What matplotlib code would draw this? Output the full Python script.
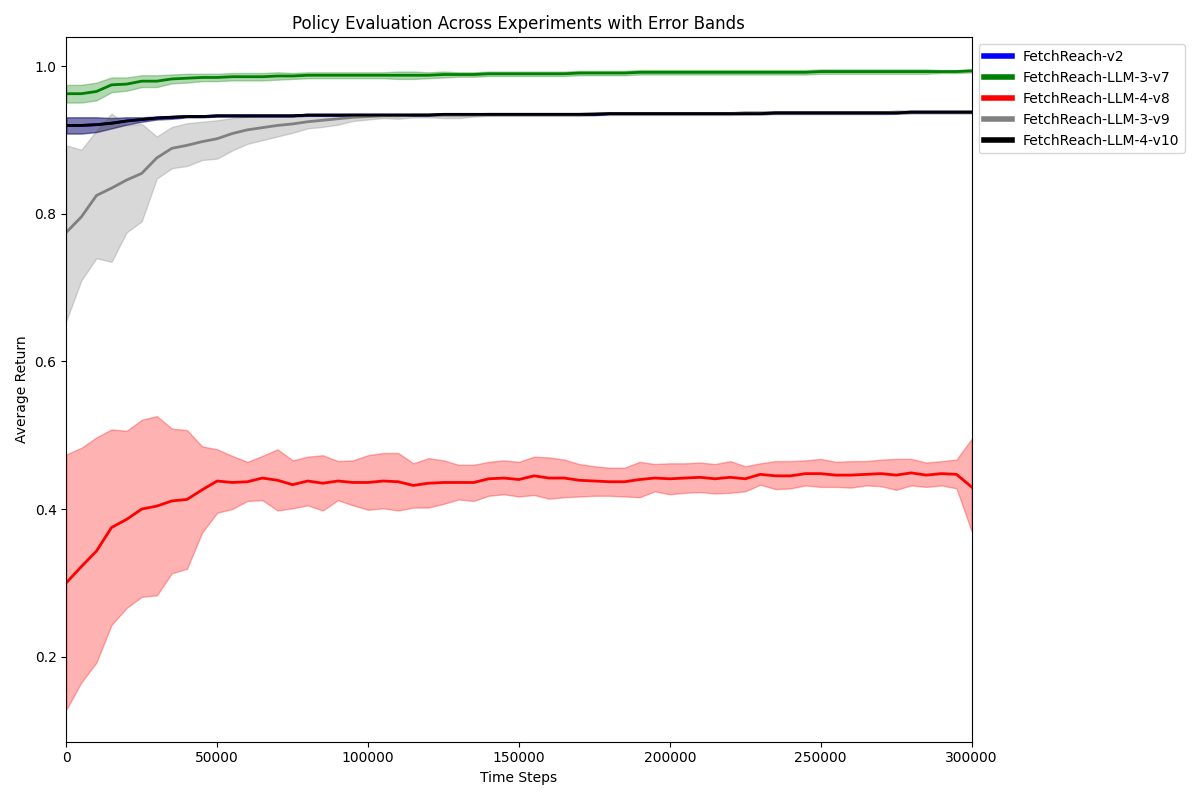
import numpy as np
import matplotlib.pyplot as plt
from matplotlib.lines import Line2D

steps = np.arange(0, 300001, 5000)

# FetchReach-LLM-4-v8 (red)
red_mean = [0.300, 0.322, 0.343, 0.375, 0.386, 0.400, 0.404, 0.411, 0.413, 0.426,
            0.438, 0.436, 0.437, 0.442, 0.439, 0.433, 0.438, 0.435, 0.438, 0.436,
            0.436, 0.438, 0.437, 0.432, 0.435, 0.436, 0.436, 0.436, 0.441, 0.442,
            0.440, 0.445, 0.442, 0.442, 0.439, 0.438, 0.437, 0.437, 0.440, 0.442,
            0.441, 0.442, 0.443, 0.441, 0.443, 0.441, 0.447, 0.445, 0.445, 0.448,
            0.448, 0.446, 0.446, 0.447, 0.448, 0.446, 0.449, 0.446, 0.448, 0.447, 0.430]
red_upper = [0.474, 0.483, 0.497, 0.508, 0.506, 0.521, 0.526, 0.509, 0.507, 0.485,
             0.481, 0.472, 0.464, 0.472, 0.481, 0.466, 0.471, 0.473, 0.465, 0.466,
             0.473, 0.476, 0.476, 0.462, 0.469, 0.466, 0.460, 0.460, 0.464, 0.466,
             0.464, 0.471, 0.470, 0.467, 0.461, 0.458, 0.456, 0.456, 0.464, 0.461,
             0.462, 0.462, 0.463, 0.461, 0.465, 0.458, 0.462, 0.465, 0.465, 0.466,
             0.468, 0.464, 0.465, 0.465, 0.467, 0.468, 0.468, 0.463, 0.465, 0.467, 0.495]
red_lower = [0.128, 0.165, 0.192, 0.243, 0.266, 0.281, 0.283, 0.313, 0.319, 0.368,
             0.395, 0.400, 0.411, 0.412, 0.398, 0.401, 0.405, 0.398, 0.412, 0.405,
             0.399, 0.401, 0.398, 0.402, 0.402, 0.407, 0.413, 0.411, 0.418, 0.420,
             0.417, 0.419, 0.414, 0.416, 0.417, 0.418, 0.418, 0.417, 0.416, 0.424,
             0.420, 0.422, 0.423, 0.421, 0.422, 0.424, 0.433, 0.427, 0.428, 0.432,
             0.430, 0.430, 0.429, 0.432, 0.431, 0.426, 0.432, 0.430, 0.432, 0.428, 0.370]

# FetchReach-LLM-3-v9 (gray)
gray_mean = [0.775, 0.796, 0.825, 0.835, 0.846, 0.855, 0.876, 0.889, 0.893, 0.898,
             0.902, 0.909, 0.914, 0.917, 0.920, 0.922, 0.925, 0.927, 0.929, 0.931,
             0.932, 0.933, 0.933, 0.934, 0.934, 0.934, 0.934, 0.934, 0.935, 0.935,
             0.935, 0.935, 0.935, 0.935, 0.935, 0.936, 0.936, 0.936, 0.936, 0.936,
             0.936, 0.936, 0.936, 0.936, 0.936, 0.937, 0.937, 0.937, 0.937, 0.937,
             0.937, 0.937, 0.937, 0.937, 0.937, 0.938, 0.938, 0.938, 0.938, 0.938, 0.938]
gray_upper = [0.893, 0.887, 0.913, 0.936, 0.920, 0.922, 0.905, 0.918, 0.923, 0.925,
              0.927, 0.930, 0.932, 0.933, 0.934, 0.934, 0.935, 0.935, 0.935, 0.936,
              0.936, 0.936, 0.936, 0.936, 0.936, 0.936, 0.936, 0.936, 0.937, 0.937,
              0.937, 0.937, 0.937, 0.937, 0.937, 0.938, 0.938, 0.938, 0.938, 0.938,
              0.938, 0.938, 0.938, 0.938, 0.938, 0.939, 0.939, 0.939, 0.939, 0.939,
              0.939, 0.939, 0.939, 0.939, 0.939, 0.940, 0.940, 0.940, 0.940, 0.940, 0.940]
gray_lower = [0.655, 0.710, 0.740, 0.735, 0.775, 0.790, 0.848, 0.862, 0.865, 0.873,
              0.875, 0.886, 0.895, 0.900, 0.905, 0.910, 0.916, 0.918, 0.921, 0.926,
              0.928, 0.930, 0.929, 0.931, 0.931, 0.930, 0.930, 0.932, 0.933, 0.933,
              0.933, 0.933, 0.933, 0.933, 0.933, 0.934, 0.934, 0.934, 0.934, 0.934,
              0.934, 0.934, 0.934, 0.934, 0.934, 0.935, 0.935, 0.935, 0.935, 0.935,
              0.935, 0.935, 0.935, 0.935, 0.935, 0.936, 0.936, 0.936, 0.936, 0.936, 0.936]

# FetchReach-LLM-3-v7 (green)
green_mean = [0.963, 0.963, 0.966, 0.975, 0.976, 0.980, 0.980, 0.983, 0.984, 0.985,
              0.985, 0.986, 0.986, 0.986, 0.987, 0.987, 0.988, 0.988, 0.988, 0.988,
              0.988, 0.988, 0.988, 0.988, 0.988, 0.989, 0.989, 0.989, 0.990, 0.990,
              0.990, 0.990, 0.990, 0.990, 0.991, 0.991, 0.991, 0.991, 0.992, 0.992,
              0.992, 0.992, 0.992, 0.992, 0.992, 0.992, 0.992, 0.992, 0.992, 0.992,
              0.993, 0.993, 0.993, 0.993, 0.993, 0.993, 0.993, 0.993, 0.993, 0.993, 0.994]
green_err = [0.012, 0.012, 0.012, 0.010, 0.009, 0.008, 0.008, 0.006, 0.006, 0.005,
             0.005, 0.005, 0.005, 0.005, 0.005, 0.004, 0.004, 0.004, 0.004, 0.004,
             0.004, 0.004, 0.005, 0.005, 0.004, 0.004, 0.003, 0.003, 0.003, 0.003,
             0.003, 0.003, 0.003, 0.003, 0.003, 0.003, 0.003, 0.003, 0.003, 0.003,
             0.003, 0.003, 0.003, 0.003, 0.003, 0.003, 0.003, 0.003, 0.003, 0.003,
             0.003, 0.003, 0.003, 0.003, 0.003, 0.003, 0.003, 0.003, 0.002, 0.002, 0.002]

# FetchReach-v2 (blue) and FetchReach-LLM-4-v10 (black), nearly identical
black_mean = [0.920, 0.920, 0.921, 0.923, 0.926, 0.928, 0.930, 0.931, 0.932, 0.932,
              0.933, 0.933, 0.933, 0.933, 0.933, 0.933, 0.934, 0.934, 0.934, 0.934,
              0.934, 0.934, 0.934, 0.934, 0.934, 0.935, 0.935, 0.935, 0.935, 0.935,
              0.935, 0.935, 0.935, 0.935, 0.935, 0.935, 0.936, 0.936, 0.936, 0.936,
              0.936, 0.936, 0.936, 0.936, 0.936, 0.936, 0.936, 0.937, 0.937, 0.937,
              0.937, 0.937, 0.937, 0.937, 0.937, 0.937, 0.938, 0.938, 0.938, 0.938, 0.938]
blue_err = [0.011, 0.011, 0.010, 0.007, 0.005, 0.003, 0.002, 0.002, 0.001, 0.001,
            0.001, 0.001, 0.001, 0.001, 0.001, 0.001, 0.001, 0.001, 0.001, 0.001,
            0.001, 0.001, 0.001, 0.001, 0.001, 0.001, 0.001, 0.001, 0.001, 0.001,
            0.001, 0.001, 0.001, 0.001, 0.001, 0.001, 0.001, 0.001, 0.001, 0.001,
            0.001, 0.001, 0.001, 0.001, 0.001, 0.001, 0.001, 0.001, 0.001, 0.001,
            0.001, 0.001, 0.001, 0.001, 0.001, 0.001, 0.001, 0.001, 0.001, 0.001, 0.001]

labels = ['FetchReach-v2', 'FetchReach-LLM-3-v7', 'FetchReach-LLM-4-v8',
          'FetchReach-LLM-3-v9', 'FetchReach-LLM-4-v10']
colors = ['blue', 'green', 'red', 'gray', 'black']

black_mean = np.array(black_mean)
blue_err = np.array(blue_err)
green_mean = np.array(green_mean)
green_err = np.array(green_err)

fig, ax = plt.subplots(figsize=(12, 8), dpi=100)

ax.fill_between(steps, black_mean - blue_err, black_mean + blue_err, color='blue', alpha=0.3)
ax.plot(steps, black_mean, color='blue', linewidth=2)
ax.fill_between(steps, green_mean - green_err, green_mean + green_err, color='green', alpha=0.3)
ax.plot(steps, green_mean, color='green', linewidth=2)
ax.fill_between(steps, red_lower, red_upper, color='red', alpha=0.3)
ax.plot(steps, red_mean, color='red', linewidth=2)
ax.fill_between(steps, gray_lower, gray_upper, color='gray', alpha=0.3)
ax.plot(steps, gray_mean, color='gray', linewidth=2)
ax.fill_between(steps, black_mean - blue_err, black_mean + blue_err, color='black', alpha=0.3)
ax.plot(steps, black_mean, color='black', linewidth=2)

ax.set_xlim(0, 300000)
ax.set_xlabel('Time Steps')
ax.set_ylabel('Average Return')
ax.set_title('Policy Evaluation Across Experiments with Error Bands')

handles = [Line2D([0], [0], color=c, linewidth=4) for c in colors]
ax.legend(handles, labels, loc='upper left', bbox_to_anchor=(1.0, 1.0))

plt.tight_layout()
plt.savefig('out.png')
